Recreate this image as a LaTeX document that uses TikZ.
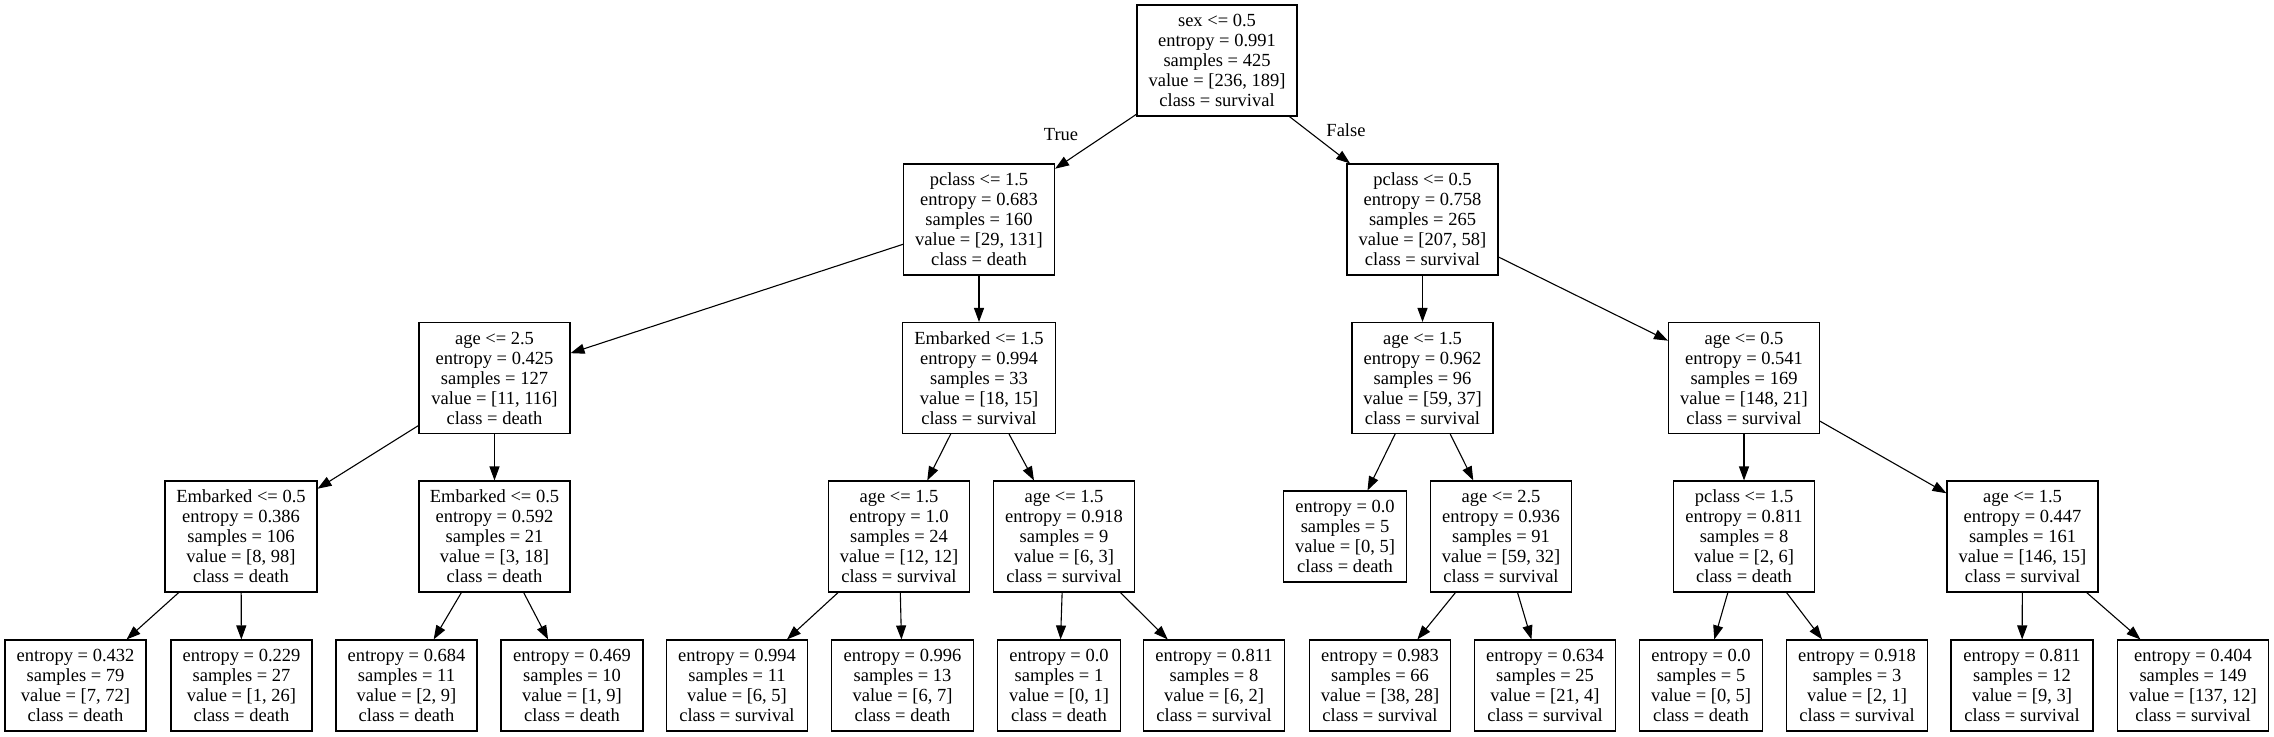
\documentclass[tikz,border=0pt]{standalone}
\usepackage{fontspec}
\setmainfont{Liberation Serif}
\usetikzlibrary{arrows.meta}
\begin{document}
\begin{tikzpicture}[x=1pt,y=-1pt,
  box/.style={draw=black, line width=1.1pt, inner sep=0pt, align=center,
    minimum height=111pt, font=\fontsize{18.5}{20}\selectfont},
  leaf/.style={box, minimum height=91pt},
  edge/.style={draw=black, line width=1.1pt, -{Triangle[length=14pt,width=10pt]}},
  lbl/.style={font=\fontsize{18.5}{20}\selectfont, inner sep=0pt}]
\fill[white] (0,0) rectangle (2274,736);
\useasboundingbox (0,0) rectangle (2274,736);
% rank 0
\node[box, minimum width=160pt] (n0) at (1217,60.5) {sex <= 0.5\\entropy = 0.991\\samples = 425\\value = [236, 189]\\class = survival};
% rank 1
\node[box, minimum width=151pt] (n1) at (979,219.5) {pclass <= 1.5\\entropy = 0.683\\samples = 160\\value = [29, 131]\\class = death};
\node[box, minimum width=151pt] (n2) at (1422.5,219.5) {pclass <= 0.5\\entropy = 0.758\\samples = 265\\value = [207, 58]\\class = survival};
% rank 2
\node[box, minimum width=151pt] (n3) at (494.5,378) {age <= 2.5\\entropy = 0.425\\samples = 127\\value = [11, 116]\\class = death};
\node[box, minimum width=152.5pt] (n4) at (979,378) {Embarked <= 1.5\\entropy = 0.994\\samples = 33\\value = [18, 15]\\class = survival};
\node[box, minimum width=141pt] (n5) at (1422.5,378) {age <= 1.5\\entropy = 0.962\\samples = 96\\value = [59, 37]\\class = survival};
\node[box, minimum width=151pt] (n6) at (1744,378) {age <= 0.5\\entropy = 0.541\\samples = 169\\value = [148, 21]\\class = survival};
% rank 3
\node[box, minimum width=152pt] (n7) at (241,536.5) {Embarked <= 0.5\\entropy = 0.386\\samples = 106\\value = [8, 98]\\class = death};
\node[box, minimum width=151pt] (n8) at (494.5,536.5) {Embarked <= 0.5\\entropy = 0.592\\samples = 21\\value = [3, 18]\\class = death};
\node[box, minimum width=141.5pt] (n9) at (899,536.5) {age <= 1.5\\entropy = 1.0\\samples = 24\\value = [12, 12]\\class = survival};
\node[box, minimum width=141pt] (n10) at (1064,536.5) {age <= 1.5\\entropy = 0.918\\samples = 9\\value = [6, 3]\\class = survival};
\node[leaf, minimum width=123pt] (n11) at (1345,536.5) {entropy = 0.0\\samples = 5\\value = [0, 5]\\class = death};
\node[box, minimum width=141.5pt] (n12) at (1501,536.5) {age <= 2.5\\entropy = 0.936\\samples = 91\\value = [59, 32]\\class = survival};
\node[box, minimum width=141.5pt] (n13) at (1744,536.5) {pclass <= 1.5\\entropy = 0.811\\samples = 8\\value = [2, 6]\\class = death};
\node[box, minimum width=151pt] (n14) at (2022.5,536.5) {age <= 1.5\\entropy = 0.447\\samples = 161\\value = [146, 15]\\class = survival};
% rank 4 (leaves)
\node[leaf, minimum width=141pt] (l1) at (75.5,685.5) {entropy = 0.432\\samples = 79\\value = [7, 72]\\class = death};
\node[leaf, minimum width=141pt] (l2) at (241.5,685.5) {entropy = 0.229\\samples = 27\\value = [1, 26]\\class = death};
\node[leaf, minimum width=141pt] (l3) at (406.5,685.5) {entropy = 0.684\\samples = 11\\value = [2, 9]\\class = death};
\node[leaf, minimum width=142pt] (l4) at (572,685.5) {entropy = 0.469\\samples = 10\\value = [1, 9]\\class = death};
\node[leaf, minimum width=141.5pt] (l5) at (737,685.5) {entropy = 0.994\\samples = 11\\value = [6, 5]\\class = survival};
\node[leaf, minimum width=142pt] (l6) at (902.5,685.5) {entropy = 0.996\\samples = 13\\value = [6, 7]\\class = death};
\node[leaf, minimum width=123.5pt] (l7) at (1059,685.5) {entropy = 0.0\\samples = 1\\value = [0, 1]\\class = death};
\node[leaf, minimum width=141.5pt] (l8) at (1214,685.5) {entropy = 0.811\\samples = 8\\value = [6, 2]\\class = survival};
\node[leaf, minimum width=141.5pt] (l9) at (1380,685.5) {entropy = 0.983\\samples = 66\\value = [38, 28]\\class = survival};
\node[leaf, minimum width=141.5pt] (l10) at (1545,685.5) {entropy = 0.634\\samples = 25\\value = [21, 4]\\class = survival};
\node[leaf, minimum width=122.5pt] (l11) at (1701,685.5) {entropy = 0.0\\samples = 5\\value = [0, 5]\\class = death};
\node[leaf, minimum width=141.5pt] (l12) at (1857,685.5) {entropy = 0.918\\samples = 3\\value = [2, 1]\\class = survival};
\node[leaf, minimum width=142pt] (l13) at (2022,685.5) {entropy = 0.811\\samples = 12\\value = [9, 3]\\class = survival};
\node[leaf, minimum width=151pt] (l14) at (2193,685.5) {entropy = 0.404\\samples = 149\\value = [137, 12]\\class = survival};
% edge labels
\node[lbl] (tl) at (1061,135) {True};
\node[lbl] (fl) at (1346,130) {False};
% edges
\path[edge] (n0) -- (n1);
\path[edge] (n0) -- (n2);
\path[edge] (n1) -- (n3);
\path[edge] (n1) -- (n4);
\path[edge] (n2) -- (n5);
\path[edge] (n2) -- (n6);
\path[edge] (n3) -- (n7);
\path[edge] (n3) -- (n8);
\path[edge] (n4) -- (n9);
\path[edge] (n4) -- (n10);
\path[edge] (n5) -- (n11);
\path[edge] (n5) -- (n12);
\path[edge] (n6) -- (n13);
\path[edge] (n6) -- (n14);
\path[edge] (n7) -- (l1);
\path[edge] (n7) -- (l2);
\path[edge] (n8) -- (l3);
\path[edge] (n8) -- (l4);
\path[edge] (n9) -- (l5);
\path[edge] (n9) -- (l6);
\path[edge] (n10) -- (l7);
\path[edge] (n10) -- (l8);
\path[edge] (n12) -- (l9);
\path[edge] (n12) -- (l10);
\path[edge] (n13) -- (l11);
\path[edge] (n13) -- (l12);
\path[edge] (n14) -- (l13);
\path[edge] (n14) -- (l14);
\end{tikzpicture}
\end{document}
